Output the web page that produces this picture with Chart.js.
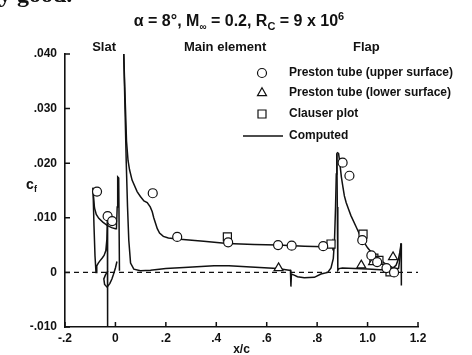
<!DOCTYPE html>
<html>
<head>
<meta charset="utf-8">
<script src="https://cdn.jsdelivr.net/npm/chart.js@4/dist/chart.umd.min.js"></script>
<style>
  html, body { margin: 0; padding: 0; background: #fff; }
  #wrap { width: 472px; height: 355px; position: relative; }
</style>
</head>
<body>
<div id="wrap"><canvas id="c" width="472" height="355"></canvas></div>
<script>
// ---- Computed skin friction, one array pair per curve segment ----
const slatUpperX  = [-0.089, -0.087, -0.083, -0.076, -0.066, -0.050, -0.033, -0.015, 0.000, 0.004, 0.007, 0.009, 0.013, 0.016];
const slatUpperCf = [0.0155, 0.0140, 0.0118, 0.0106, 0.0099, 0.0092, 0.0086, 0.0082, 0.0080, 0.0080, 0.0120, 0.0175, 0.0173, 0.0003];

const slatLowerX  = [-0.089, -0.085, -0.081, -0.077, -0.074, -0.068, -0.060, -0.053, -0.045, -0.038, -0.034, -0.032, -0.031];
const slatLowerCf = [0.0155, 0.0085, 0.0030, 0.0000, 0.0012, 0.0017, 0.0022, 0.0026, 0.0031, 0.0040, 0.0060, 0.0100, -0.0100];

const slatCoveX   = [-0.030, -0.040, -0.046, -0.043, -0.033, -0.022, -0.014, -0.008, 0.000, 0.006];
const slatCoveCf  = [0.0003, -0.0005, -0.0012, -0.0022, -0.0027, -0.0020, -0.0012, -0.0004, 0.0008, 0.0020];

const mainUpperX  = [0.033, 0.037, 0.040, 0.044, 0.050, 0.056, 0.066, 0.086, 0.099, 0.113, 0.126, 0.138, 0.146, 0.152, 0.159, 0.166, 0.175, 0.190, 0.210, 0.245, 0.350, 0.444, 0.550, 0.643, 0.750, 0.827, 0.855, 0.861, 0.863];
const mainUpperCf = [0.0400, 0.0340, 0.0298, 0.0240, 0.0205, 0.0188, 0.0169, 0.0148, 0.0139, 0.0131, 0.0128, 0.0120, 0.0111, 0.0100, 0.0090, 0.0080, 0.0072, 0.0066, 0.0063, 0.0061, 0.0057, 0.0053, 0.0051, 0.0050, 0.0048, 0.0047, 0.0048, 0.0056, 0.0040];

const mainLowerX  = [0.033, 0.038, 0.043, 0.048, 0.053, 0.060, 0.073, 0.099, 0.139, 0.200, 0.272, 0.391, 0.450, 0.537, 0.643, 0.689, 0.694, 0.696, 0.698, 0.709, 0.722, 0.749, 0.789, 0.815, 0.842, 0.855, 0.864, 0.869, 0.873, 0.876, 0.878];
const mainLowerCf = [0.0400, 0.0300, 0.0200, 0.0120, 0.0059, 0.0017, 0.0006, 0.0003, 0.0004, 0.0007, 0.0009, 0.0012, 0.0012, 0.0010, 0.0007, 0.0004, 0.0004, -0.0026, -0.0003, -0.0005, -0.0008, -0.0010, -0.0009, -0.0003, 0.0000, 0.0008, 0.0025, 0.0060, 0.0120, 0.0180, 0.0218];

const flapUpperX  = [0.878, 0.885, 0.890, 0.896, 0.902, 0.908, 0.915, 0.925, 0.934, 0.954, 0.974, 1.000, 1.027, 1.067, 1.107, 1.123, 1.129, 1.133];
const flapUpperCf = [0.0220, 0.0218, 0.0200, 0.0175, 0.0157, 0.0140, 0.0128, 0.0115, 0.0104, 0.0084, 0.0064, 0.0045, 0.0030, 0.0017, 0.0007, 0.0007, 0.0029, 0.0053];

const flapLowerX  = [0.878, 0.880, 0.882, 0.887, 0.900, 0.950, 1.000, 1.050, 1.085, 1.100, 1.113, 1.122, 1.128, 1.133];
const flapLowerCf = [0.0218, 0.0120, 0.0004, 0.0007, 0.0008, 0.0007, 0.0006, 0.0005, 0.0005, 0.0008, 0.0013, 0.0024, 0.0037, 0.0053];

const flapTrailX  = [1.133, 1.134];
const flapTrailCf = [0.0053, -0.0024];

// ---- Measurements ----
const prestonUpperX  = [-0.073, -0.031, -0.013, 0.148, 0.245, 0.447, 0.645, 0.699, 0.824, 0.901, 0.928, 0.979, 1.015, 1.038, 1.075, 1.105];
const prestonUpperCf = [0.0148, 0.0103, 0.0094, 0.0145, 0.0065, 0.0055, 0.0050, 0.0049, 0.0048, 0.0201, 0.0177, 0.0059, 0.0031, 0.0019, 0.0008, 0.0000];

const prestonLowerX  = [0.647, 0.975, 1.022, 1.101];
const prestonLowerCf = [0.0008, 0.0013, 0.0019, 0.0028];

const clauserX  = [0.444, 0.855, 0.982, 1.025, 1.045, 1.089];
const clauserCf = [0.0065, 0.0052, 0.0070, 0.0026, 0.0022, 0.0001];

// ---- Axis ticks ----
const xTicks = [-0.2, 0, 0.2, 0.4, 0.6, 0.8, 1.0, 1.2];
const xTickLabels = ['-.2', '0', '.2', '.4', '.6', '.8', '1.0', '1.2'];
const yTicks = [-0.01, 0, 0.01, 0.02, 0.03, 0.04];
const yTickLabels = ['-.010', '0', '.010', '.020', '.030', '.040'];

const legendLabels = ['Preston tube (upper surface)', 'Preston tube (lower surface)', 'Clauser plot', 'Computed'];
const regionLabels = ['Slat', 'Main element', 'Flap'];
const regionCentres = [-0.045, 0.435, 0.995];

const pts = (xs, ys) => xs.map((x, i) => ({ x: x, y: ys[i] }));
const FONT = '"Liberation Sans", Arial, Helvetica, sans-serif';
const INK = '#111';

const curve = (xs, ys) => ({
  type: 'line', data: pts(xs, ys), borderColor: INK, borderWidth: 1.5,
  pointRadius: 0, tension: 0, fill: false, order: 2
});
const marks = (xs, ys, style, r) => ({
  type: 'scatter', data: pts(xs, ys), pointStyle: style, pointRadius: r,
  pointBorderColor: INK, pointBackgroundColor: '#fff', pointBorderWidth: 1.2,
  showLine: false, order: 0
});

const datasets = [
  marks(prestonUpperX, prestonUpperCf, 'circle', 4.5),
  marks(prestonLowerX, prestonLowerCf, 'triangle', 5.2),
  marks(clauserX, clauserCf, 'rect', 5.7),
  curve(slatUpperX, slatUpperCf),
  curve(slatLowerX, slatLowerCf),
  curve(slatCoveX, slatCoveCf),
  curve(mainUpperX, mainUpperCf),
  curve(mainLowerX, mainLowerCf),
  curve(flapUpperX, flapUpperCf),
  curve(flapLowerX, flapLowerCf),
  curve(flapTrailX, flapTrailCf),
  {
    type: 'line', data: pts([xTicks[0], xTicks[xTicks.length - 1]], [0, 0]),
    borderColor: INK, borderWidth: 1.2, borderDash: [5, 4], pointRadius: 0, order: 3
  }
];

// Inward tick marks, header texts, axis titles and the in-plot key
const decorations = {
  id: 'decorations',
  afterDraw(chart) {
    const ctx = chart.ctx;
    const xs = chart.scales.x, ys = chart.scales.y;
    const area = chart.chartArea;
    ctx.save();
    ctx.strokeStyle = INK;
    ctx.lineWidth = 1.5;
    ctx.beginPath();
    xTicks.forEach(v => {
      const p = xs.getPixelForValue(v);
      ctx.moveTo(p, area.bottom); ctx.lineTo(p, area.bottom - 5);
    });
    yTicks.forEach(v => {
      const p = ys.getPixelForValue(v);
      ctx.moveTo(area.left, p); ctx.lineTo(area.left + 5, p);
    });
    ctx.stroke();

    ctx.fillStyle = INK;

    // fragment of the surrounding text line
    ctx.font = 'bold 24px "Liberation Serif", "Times New Roman", serif';
    ctx.textAlign = 'left'; ctx.textBaseline = 'alphabetic';
    ctx.fillText('y good.', -1, 2);

    // title with sub/superscripts
    const parts = [
      ['α = 8°, M', 0, 16], ['∞', 4, 10], [' = 0.2, R', 0, 16], ['C', 4, 11],
      [' = 9 x 10', 0, 16], ['6', -6, 11]
    ];
    let total = 0;
    parts.forEach(p => { ctx.font = 'bold ' + p[2] + 'px ' + FONT; total += ctx.measureText(p[0]).width; });
    let tx = 239 - total / 2;
    parts.forEach(p => {
      ctx.font = 'bold ' + p[2] + 'px ' + FONT;
      ctx.fillText(p[0], tx, 26 + p[1]);
      tx += ctx.measureText(p[0]).width;
    });

    // element names above the plot
    ctx.font = 'bold 13px ' + FONT;
    ctx.textAlign = 'center';
    regionLabels.forEach((t, i) => ctx.fillText(t, xs.getPixelForValue(regionCentres[i]), 51));

    // axis titles
    ctx.font = 'bold 12px ' + FONT;
    ctx.fillText('x/c', (area.left + area.right) / 2, 353);
    ctx.textAlign = 'left';
    ctx.font = 'bold 14px ' + FONT;
    ctx.fillText('c', 26, 189);
    ctx.font = 'bold 9px ' + FONT;
    ctx.fillText('f', 34, 192);

    // key
    const kx = 262, tx0 = 289, rows = [73, 93, 114, 136];
    ctx.lineWidth = 1.2;
    ctx.fillStyle = '#fff';
    ctx.beginPath(); ctx.arc(kx, rows[0], 4.5, 0, Math.PI * 2); ctx.fill(); ctx.stroke();
    const tr = 5.2;
    ctx.beginPath();
    ctx.moveTo(kx, rows[1] - tr);
    ctx.lineTo(kx + tr * 0.866, rows[1] + tr * 0.5);
    ctx.lineTo(kx - tr * 0.866, rows[1] + tr * 0.5);
    ctx.closePath(); ctx.fill(); ctx.stroke();
    ctx.beginPath(); ctx.rect(kx - 4, rows[2] - 4, 8, 8); ctx.fill(); ctx.stroke();
    ctx.lineWidth = 1.5;
    ctx.beginPath(); ctx.moveTo(243, rows[3]); ctx.lineTo(283, rows[3]); ctx.stroke();

    ctx.fillStyle = INK;
    ctx.font = 'bold 12px ' + FONT;
    ctx.textBaseline = 'middle';
    legendLabels.forEach((t, i) => ctx.fillText(t, tx0, rows[i]));
    ctx.restore();
  }
};

new Chart(document.getElementById('c'), {
  data: { datasets: datasets },
  options: {
    responsive: false,
    devicePixelRatio: 1,
    animation: false,
    layout: { padding: { top: 54, right: 54, left: 0, bottom: 0 } },
    plugins: { legend: { display: false }, tooltip: { enabled: false }, title: { display: false } },
    scales: {
      x: {
        type: 'linear', min: xTicks[0], max: xTicks[xTicks.length - 1],
        afterFit: s => { s.height = 28; },
        afterBuildTicks: s => { s.ticks = xTicks.map(v => ({ value: v })); },
        ticks: {
          color: INK, padding: 4, maxRotation: 0, autoSkip: false,
          font: { family: FONT, size: 12, weight: 'bold' },
          callback: (v) => { const i = xTicks.findIndex(t => Math.abs(t - v) < 1e-9); return i >= 0 ? xTickLabels[i] : ''; }
        },
        grid: { display: true, drawOnChartArea: false, drawTicks: false },
        border: { display: true, color: INK, width: 1.6 }
      },
      y: {
        type: 'linear', min: yTicks[0], max: yTicks[yTicks.length - 1],
        afterFit: s => { s.width = 65; },
        afterBuildTicks: s => { s.ticks = yTicks.map(v => ({ value: v })); },
        ticks: {
          color: INK, padding: 8, autoSkip: false,
          font: { family: FONT, size: 12, weight: 'bold' },
          callback: (v) => { const i = yTicks.findIndex(t => Math.abs(t - v) < 1e-9); return i >= 0 ? yTickLabels[i] : ''; }
        },
        grid: { display: true, drawOnChartArea: false, drawTicks: false },
        border: { display: true, color: INK, width: 1.6 }
      }
    }
  },
  plugins: [decorations]
});
</script>
</body>
</html>
